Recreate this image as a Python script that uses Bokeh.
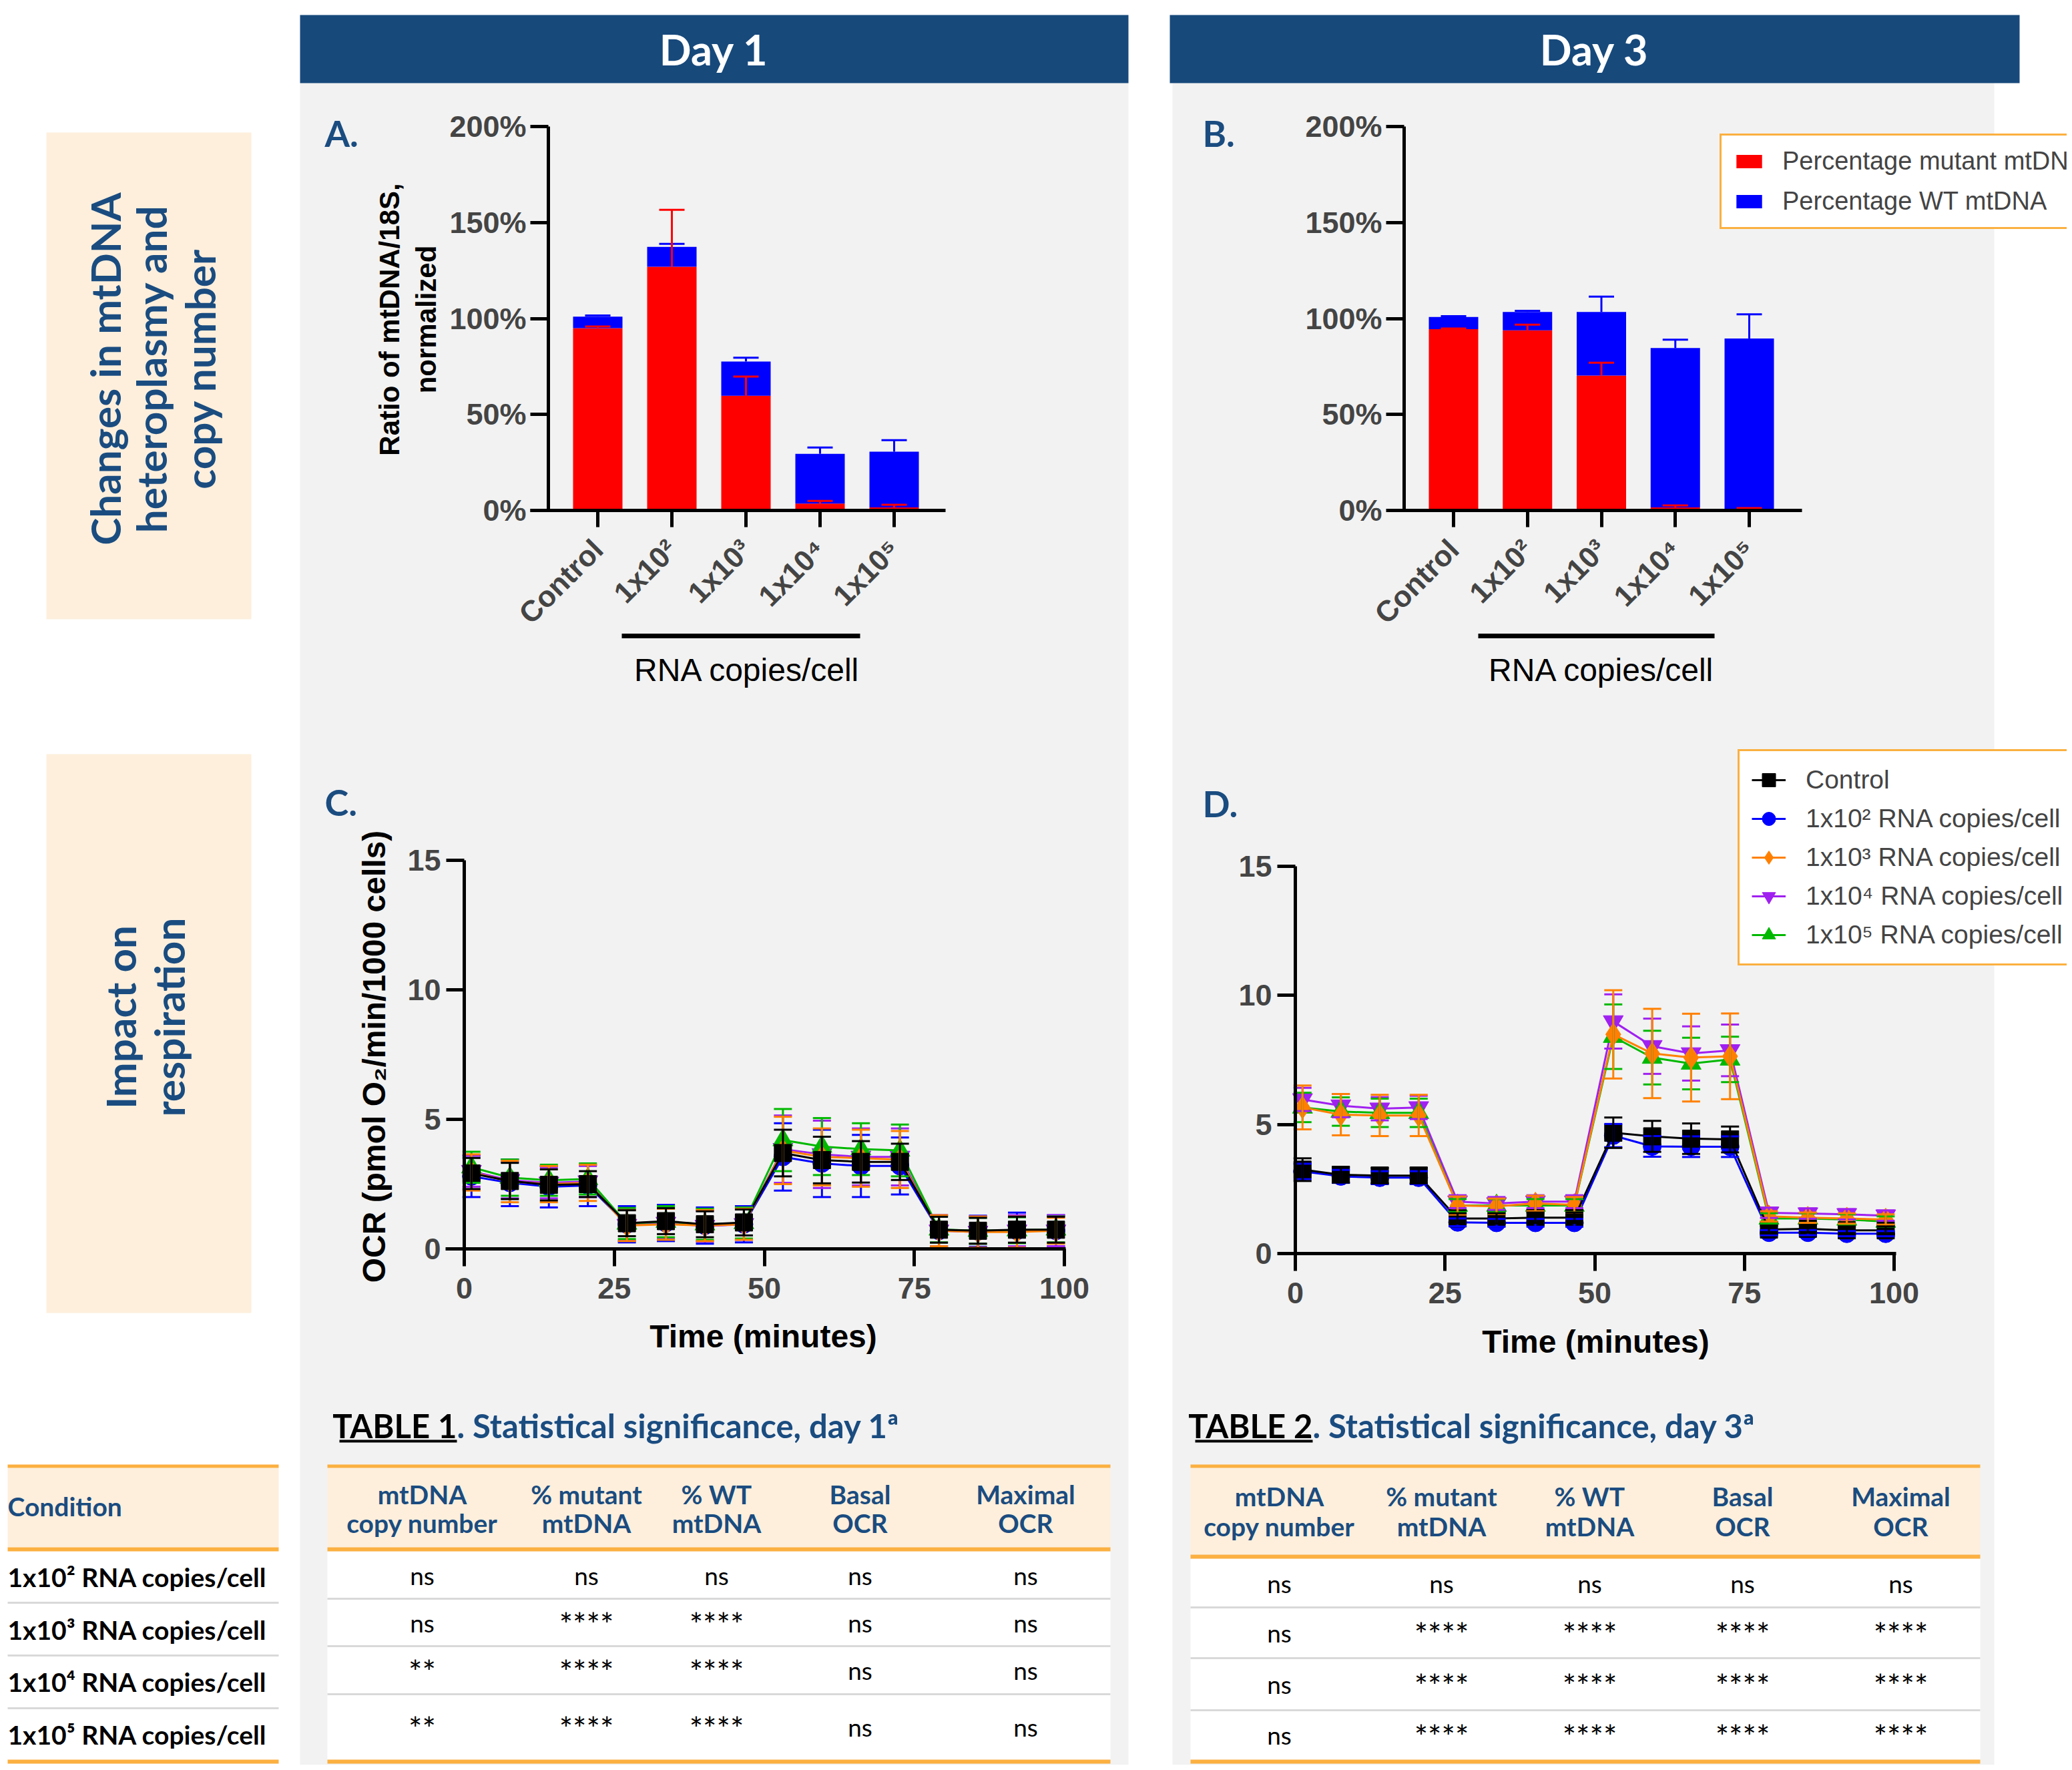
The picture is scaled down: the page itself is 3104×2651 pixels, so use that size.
import math
from bokeh.plotting import figure
from bokeh.models import (Range1d, LinearAxis, FixedTicker, Whisker, TeeHead,
                          ColumnDataSource, Legend, LegendItem)
from bokeh.core.properties import value
from bokeh.embed import file_html
from bokeh.resources import INLINE

# ------------------------------------------------------------------ data
categories = ["Control", "1x10²", "1x10³", "1x10⁴", "1x10⁵"]
pct_ticks = [0, 50, 100, 150, 200]
pct_tick_labels = ["0%", "50%", "100%", "150%", "200%"]
bar_legend = ["Percentage mutant mtDNA", "Percentage WT mtDNA"]

a_mutant = [95.0, 127.0, 59.7, 3.6, 1.6]
a_mutant_err = [0.8, 29.6, 10.0, 1.4, 1.4]
a_wt = [6.0, 10.3, 17.9, 25.9, 29.0]
a_wt_err = [0.6, 1.6, 2.0, 3.3, 6.0]

b_mutant = [94.4, 93.8, 70.3, 1.6, 0.8]
b_mutant_err = [0.4, 3.0, 6.7, 1.0, 0.4]
b_wt = [6.4, 9.6, 33.1, 83.0, 88.8]
b_wt_err = [0.4, 0.6, 8.0, 4.4, 12.6]

time_min = [1.2, 7.6, 14.1, 20.6, 27.1, 33.6, 40.1, 46.6,
            53.1, 59.6, 66.1, 72.6, 79.1, 85.6, 92.1, 98.6]
time_ticks = [0, 25, 50, 75, 100]
ocr_ticks = [0, 5, 10, 15]
series_labels = ["Control", "1x10² RNA copies/cell", "1x10³ RNA copies/cell",
                 "1x10⁴ RNA copies/cell", "1x10⁵ RNA copies/cell"]

c_ctrl = [2.91, 2.62, 2.47, 2.50, 0.99, 1.07, 0.95, 1.02, 3.70, 3.43, 3.36, 3.36, 0.74, 0.70, 0.74, 0.74]
c_e2 = [2.80, 2.55, 2.40, 2.45, 0.95, 1.00, 0.90, 0.95, 3.55, 3.30, 3.20, 3.20, 0.70, 0.68, 0.70, 0.70]
c_e3 = [2.95, 2.60, 2.50, 2.55, 0.90, 0.95, 0.90, 0.95, 3.80, 3.55, 3.50, 3.45, 0.70, 0.65, 0.65, 0.70]
c_e4 = [3.00, 2.65, 2.55, 2.60, 0.92, 1.00, 0.88, 0.95, 3.85, 3.65, 3.55, 3.55, 0.70, 0.65, 0.70, 0.70]
c_e5 = [3.15, 2.75, 2.65, 2.70, 0.98, 1.05, 0.95, 1.00, 4.20, 3.95, 3.85, 3.80, 0.75, 0.70, 0.72, 0.75]
c_ctrl_err = [0.6, 0.7, 0.6, 0.5, 0.5, 0.5, 0.5, 0.5, 0.9, 0.9, 0.8, 0.7, 0.5, 0.5, 0.5, 0.5]
c_e2_err = [0.8, 0.9, 0.8, 0.8, 0.7, 0.7, 0.7, 0.7, 1.3, 1.3, 1.2, 1.1, 0.6, 0.6, 0.7, 0.6]
c_e3_err = [0.7, 0.8, 0.7, 0.7, 0.6, 0.6, 0.6, 0.6, 1.3, 1.1, 1.1, 1.1, 0.6, 0.6, 0.6, 0.5]
c_e4_err = [0.6, 0.7, 0.6, 0.6, 0.6, 0.6, 0.6, 0.6, 1.3, 1.3, 1.1, 1.1, 0.6, 0.6, 0.6, 0.6]
c_e5_err = [0.6, 0.7, 0.6, 0.6, 0.6, 0.6, 0.6, 0.6, 1.2, 1.1, 1.0, 1.0, 0.5, 0.5, 0.5, 0.5]

d_ctrl = [3.25, 3.05, 3.02, 3.02, 1.36, 1.36, 1.39, 1.39, 4.68, 4.54, 4.45, 4.42, 0.93, 0.96, 0.90, 0.90]
d_e2 = [3.18, 2.99, 2.94, 2.94, 1.21, 1.19, 1.19, 1.19, 4.57, 4.15, 4.14, 4.14, 0.81, 0.81, 0.77, 0.77]
d_e3 = [5.66, 5.38, 5.35, 5.35, 1.86, 1.83, 1.94, 1.89, 8.49, 7.75, 7.59, 7.64, 1.44, 1.39, 1.36, 1.32]
d_e4 = [5.97, 5.73, 5.61, 5.66, 2.01, 1.94, 2.01, 2.01, 8.99, 8.03, 7.75, 7.87, 1.58, 1.55, 1.52, 1.47]
d_e5 = [5.66, 5.50, 5.45, 5.45, 1.86, 1.86, 1.86, 1.86, 8.40, 7.59, 7.36, 7.52, 1.36, 1.36, 1.32, 1.24]
d_ctrl_err = [0.44, 0.3, 0.3, 0.3, 0.2, 0.2, 0.2, 0.2, 0.59, 0.6, 0.59, 0.5, 0.15, 0.15, 0.15, 0.15]
d_e2_err = [0.3, 0.25, 0.25, 0.25, 0.15, 0.15, 0.15, 0.15, 0.45, 0.4, 0.4, 0.4, 0.1, 0.1, 0.1, 0.1]
d_e3_err = [0.85, 0.8, 0.8, 0.8, 0.35, 0.3, 0.3, 0.3, 1.71, 1.73, 1.7, 1.66, 0.2, 0.2, 0.2, 0.2]
d_e4_err = [0.45, 0.45, 0.45, 0.45, 0.25, 0.25, 0.25, 0.25, 1.05, 1.07, 1.05, 1.0, 0.2, 0.2, 0.2, 0.2]
d_e5_err = [0.57, 0.55, 0.55, 0.55, 0.25, 0.25, 0.25, 0.25, 1.25, 1.04, 1.0, 0.88, 0.2, 0.2, 0.2, 0.2]

table_columns = ["mtDNA\ncopy number", "% mutant\nmtDNA", "% WT\nmtDNA", "Basal\nOCR", "Maximal\nOCR"]
table_conditions = ["1x10² RNA copies/cell", "1x10³ RNA copies/cell",
                    "1x10⁴ RNA copies/cell", "1x10⁵ RNA copies/cell"]
table1_values = [["ns", "ns", "ns", "ns", "ns"],
                 ["ns", "****", "****", "ns", "ns"],
                 ["**", "****", "****", "ns", "ns"],
                 ["**", "****", "****", "ns", "ns"]]
table2_values = [["ns", "ns", "ns", "ns", "ns"],
                 ["ns", "****", "****", "****", "****"],
                 ["ns", "****", "****", "****", "****"],
                 ["ns", "****", "****", "****", "****"]]

# ------------------------------------------------------------------ style
NAVY = "#17497B"
BLUE_TXT = "#1A4C80"
GREY = "#F2F2F2"
PEACH = "#FDEFDC"
ORANGE = "#FBB040"
SEP = "#D9D9D9"
RED = "#FF0000"
BLU = "#0000FF"
series_colors = ["#000000", "#0000FF", "#FF8000", "#A020F0", "#00B800"]
series_markers = ["square", "circle", "diamond", "inverted_triangle", "triangle"]
series_sizes = [26, 27, 34, 30, 30]
CHART_FONT = "Liberation Sans"
DECO_FONT = "Lato"

# canvas in reference pixel coordinates
W, H = 3096, 2643
FL, FR, FB, FT = 0, W, H, 0

p = figure(width=W, height=H, x_range=Range1d(FL, FR), y_range=Range1d(FB, FT),
           x_axis_type=None, y_axis_type=None, toolbar_location=None,
           output_backend="svg", min_border=0, outline_line_color=None,
           background_fill_color="white", border_fill_color="white")


def lin_range(p_lo, p_hi, pa, va, pb, vb):
    k = (vb - va) / (pb - pa)
    return Range1d(start=va + (p_lo - pa) * k, end=va + (p_hi - pa) * k)


def inv(pa, va, pb, vb, px):
    return va + (px - pa) * (vb - va) / (pb - pa)


def box(x0, x1, y0, y1, color):
    p.quad(left=[x0], right=[x1], top=[y0], bottom=[y1], fill_color=color, line_color=None)


def txt(x, y, s, size, color="black", font=DECO_FONT, style="bold", align="center",
        baseline="middle", angle=0.0):
    p.text(x=[x], y=[y], text=[s], text_font=value(font), text_font_size=f"{size}px",
           text_font_style=style, text_color=color, text_align=align,
           text_baseline=baseline, angle=angle)


# ------------------------------------------------------------------ backgrounds
box(449, 1690, 124, 2660, GREY)
box(1756, 2987, 124, 2660, GREY)
box(449, 1690, 22, 124, NAVY)
box(1752, 3025, 22, 124, NAVY)
txt(1069, 73, "Day 1", 63, "white")
txt(2388, 73, "Day 3", 63, "white")

box(69, 376, 198, 927, PEACH)
box(69, 376, 1129, 1966, PEACH)
for xx, s in zip([156, 225, 298], ["Changes in mtDNA", "heteroplasmy and", "copy number"]):
    txt(xx, 552, s, 62, BLUE_TXT, angle=math.pi / 2)
for xx, s in zip([179, 252], ["Impact on", "respiration"]):
    txt(xx, 1523, s, 62, BLUE_TXT, angle=math.pi / 2)

for (lx, ly, s) in [(486, 199, "A."), (1801, 199, "B."), (486, 1201, "C."), (1801, 1203, "D.")]:
    txt(lx, ly, s, 54, BLUE_TXT, align="left")

# ------------------------------------------------------------------ ranges
geo = {
    "a": dict(x=(895, 0, 1339, 4), y=(764, 0, 189, 200), yaxis=821, xaxis=(794, 1416)),
    "b": dict(x=(2177, 0, 2620, 4), y=(764, 0, 189, 200), yaxis=2103, xaxis=(2077, 2699)),
    "c": dict(x=(695, 0, 1594, 100), y=(1870, 0, 1288, 15), yaxis=695, xaxis=(667, 1596)),
    "d": dict(x=(1940, 0, 2837, 100), y=(1877, 0, 1297, 15), yaxis=1940, xaxis=(1914, 2840)),
}
for k, g in geo.items():
    p.extra_x_ranges[k + "x"] = lin_range(FL, FR, *g["x"])
    p.extra_y_ranges[k + "y"] = lin_range(FB, FT, *g["y"])


def axes(k, xticks, xlabels, yticks, ylabels, xorient="horizontal", xsize=45, xstand=10,
         ystand=8, xtick_out=26, ytick_out=27):
    g = geo[k]
    common = dict(x_range_name=k + "x", y_range_name=k + "y", axis_line_width=5,
                  axis_line_color="black", major_tick_line_width=5, major_tick_in=0,
                  minor_tick_line_color=None, major_label_text_font=CHART_FONT,
                  major_label_text_font_style="bold")
    xa = LinearAxis(fixed_location=0,
                    bounds=(inv(*g["x"], g["xaxis"][0]), inv(*g["x"], g["xaxis"][1])),
                    ticker=FixedTicker(ticks=xticks, minor_ticks=[]),
                    major_label_overrides={t: l for t, l in zip(xticks, xlabels)},
                    major_tick_out=xtick_out, major_label_text_font_size=f"{xsize}px",
                    major_label_standoff=xstand, major_label_orientation=xorient, **common)
    ya = LinearAxis(fixed_location=inv(*g["x"], g["yaxis"]),
                    bounds=(yticks[0], yticks[-1]),
                    ticker=FixedTicker(ticks=yticks, minor_ticks=[]),
                    major_label_overrides={t: l for t, l in zip(yticks, ylabels)},
                    major_tick_out=ytick_out, major_label_text_font_size="45px",
                    major_label_standoff=ystand, **common)
    p.add_layout(xa, "below")
    p.add_layout(ya, "left")


# ------------------------------------------------------------------ bar charts
def bars(k, mutant, mutant_err, wt, wt_err):
    idx = list(range(len(categories)))
    total = [m + w for m, w in zip(mutant, wt)]
    bw = 74 * 4 / (geo[k]["x"][2] - geo[k]["x"][0])
    r_red = p.vbar(x=idx, width=bw, bottom=0, top=mutant, fill_color=RED, line_color=None,
                   x_range_name=k + "x", y_range_name=k + "y")
    r_blue = p.vbar(x=idx, width=bw, bottom=mutant, top=total, fill_color=BLU, line_color=None,
                    x_range_name=k + "x", y_range_name=k + "y")
    for low, err, col in [(total, wt_err, BLU), (mutant, mutant_err, RED)]:
        src = ColumnDataSource(dict(base=idx, lower=low, upper=[a + b for a, b in zip(low, err)]))
        p.add_layout(Whisker(source=src, base="base", lower="lower", upper="upper",
                             lower_head=None,
                             upper_head=TeeHead(size=38, line_color=col, line_width=3),
                             line_color=col, line_width=3, level="glyph",
                             x_range_name=k + "x", y_range_name=k + "y"))
    axes(k, idx, categories, pct_ticks, pct_tick_labels, xorient=math.pi / 4, xsize=44,
         xstand=26, xtick_out=25, ystand=6)
    return r_red, r_blue


bars("a", a_mutant, a_mutant_err, a_wt, a_wt_err)
rb_red, rb_blue = bars("b", b_mutant, b_mutant_err, b_wt, b_wt_err)

# bracket + group title under bars
box(931, 1288, 948.5, 955.5, "black")
box(2214, 2568, 948.5, 955.5, "black")
txt(1119, 1003, "RNA copies/cell", 48, font=CHART_FONT, style="normal")
txt(2399, 1003, "RNA copies/cell", 48, font=CHART_FONT, style="normal")
txt(583, 478, "Ratio of mtDNA/18S,", 42, font=CHART_FONT, angle=math.pi / 2)
txt(638, 478, "normalized", 42, font=CHART_FONT, angle=math.pi / 2)

leg_b = Legend(items=[LegendItem(label=bar_legend[0], renderers=[rb_red]),
                      LegendItem(label=bar_legend[1], renderers=[rb_blue])],
               location=(2576 - FL, FB - 343), orientation="vertical",
               border_line_color=ORANGE, border_line_width=3, border_line_alpha=1,
               background_fill_color="white", background_fill_alpha=1,
               padding=17, spacing=17, margin=0, glyph_width=48, glyph_height=25,
               label_standoff=26, label_text_font=CHART_FONT, label_text_font_size="38px")
p.add_layout(leg_b)

# ------------------------------------------------------------------ time courses
order = [1, 3, 4, 2, 0]


def course(k, ys, errs):
    rends = {}
    for i in order:
        col = series_colors[i]
        src = ColumnDataSource(dict(base=time_min, lower=[a - b for a, b in zip(ys[i], errs[i])],
                                    upper=[a + b for a, b in zip(ys[i], errs[i])]))
        p.add_layout(Whisker(source=src, base="base", lower="lower", upper="upper",
                             lower_head=TeeHead(size=27, line_color=col, line_width=3),
                             upper_head=TeeHead(size=27, line_color=col, line_width=3),
                             line_color=col, line_width=3, level="glyph",
                             x_range_name=k + "x", y_range_name=k + "y"))
        rl = p.line(time_min, ys[i], line_color=col, line_width=3,
                    x_range_name=k + "x", y_range_name=k + "y")
        rs = p.scatter(time_min, ys[i], marker=series_markers[i], size=series_sizes[i],
                       fill_color=col, line_color=col, x_range_name=k + "x", y_range_name=k + "y")
        rends[i] = (rl, rs)
    axes(k, time_ticks, [str(t) for t in time_ticks], ocr_ticks, [str(t) for t in ocr_ticks],
         xsize=45, xstand=17, ystand=8, xtick_out=26, ytick_out=27)
    return rends


course("c", [c_ctrl, c_e2, c_e3, c_e4, c_e5], [c_ctrl_err, c_e2_err, c_e3_err, c_e4_err, c_e5_err])
rd = course("d", [d_ctrl, d_e2, d_e3, d_e4, d_e5], [d_ctrl_err, d_e2_err, d_e3_err, d_e4_err, d_e5_err])

txt(1143, 2001, "Time (minutes)", 48, font=CHART_FONT)
txt(2390, 2009, "Time (minutes)", 48, font=CHART_FONT)
txt(560, 1582, "OCR (pmol O₂/min/1000 cells)", 48, font=CHART_FONT, angle=math.pi / 2)

leg_d = Legend(items=[LegendItem(label=series_labels[i], renderers=list(rd[i])) for i in range(5)],
               location=(2603 - FL, FB - 1446), orientation="vertical",
               border_line_color=ORANGE, border_line_width=3, border_line_alpha=1,
               background_fill_color="white", background_fill_alpha=1,
               padding=18, spacing=8, margin=0, glyph_width=51, glyph_height=50,
               label_standoff=30, label_text_font=CHART_FONT, label_text_font_size="39px")
p.add_layout(leg_d)

# ------------------------------------------------------------------ tables


def sig_table(x0, x1, col_x, head_bot, edges, head_y, vals):
    box(x0, x1, head_bot + 6, 2635, "white")
    box(x0, x1, 2198, head_bot, PEACH)
    box(x0, x1, 2193, 2198, ORANGE)
    box(x0, x1, head_bot, head_bot + 6, ORANGE)
    for e in edges[1:-1]:
        box(x0, x1, e - 1.5, e + 1.5, SEP)
    box(x0, x1, 2635, 2641, ORANGE)
    for j, name in enumerate(table_columns):
        for ln, yy in zip(name.split("\n"), head_y):
            txt(col_x[j], yy, ln, 39, BLUE_TXT)
    for i, row in enumerate(vals):
        yc = (edges[i] + edges[i + 1]) / 2
        for j, v in enumerate(row):
            if "*" in v:
                txt(col_x[j], yc + 2, v, 48, "black", style="normal")
            else:
                txt(col_x[j], yc, v, 37, "black", style="normal")


sig_table(490, 1663, [632, 878, 1073, 1288, 1536], 2317, [2323, 2394, 2465, 2537, 2635],
          [2237, 2280], table1_values)
sig_table(1783, 2966, [1916, 2159, 2381, 2610, 2847], 2328, [2334, 2407, 2483, 2561, 2635],
          [2240, 2285], table2_values)

# condition column
box(11, 417, 2198, 2317, PEACH)
box(11, 417, 2193, 2198, ORANGE)
box(11, 417, 2317, 2323, ORANGE)
for e in [2400, 2479, 2558]:
    box(11, 417, e - 1.5, e + 1.5, SEP)
box(11, 417, 2635, 2641, ORANGE)
txt(11, 2255, "Condition", 39, BLUE_TXT, align="left")
for s, yy in zip(table_conditions, [2361, 2440, 2518, 2597]):
    txt(11, yy, s, 39, "black", align="left")

# titles
for (xe, x0, s) in [(684, 508, "TABLE 1"), (1966, 1790, "TABLE 2")]:
    txt(xe, 2134, s, 49, "black", align="right")
    box(x0, xe, 2156, 2160, "black")
txt(684, 2134, ". Statistical significance, day 1ª", 49, BLUE_TXT, align="left")
txt(1966, 2134, ". Statistical significance, day 3ª", 49, BLUE_TXT, align="left")

open("out.html", "w").write(file_html(p, INLINE))
